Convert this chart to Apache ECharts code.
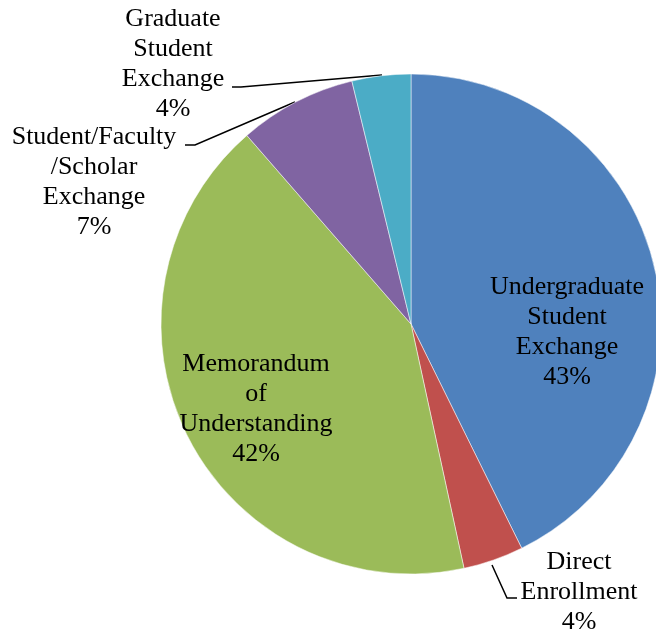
<!DOCTYPE html>
<html>
<head>
<meta charset="utf-8">
<script src="https://cdn.jsdelivr.net/npm/echarts@6/dist/echarts.min.js"></script>
<style>
  html, body { margin: 0; padding: 0; background: #fff; }
  #chart { width: 656px; height: 637px; }
</style>
</head>
<body>
<div id="chart"></div>
<script>
// slices, clockwise from 12 o'clock
const categories = [
  "Undergraduate\nStudent\nExchange",
  "Direct\nEnrollment",
  "Memorandum\nof\nUnderstanding",
  "Student/Faculty\n/Scholar\nExchange",
  "Graduate\nStudent\nExchange",
];
const shares = [42.7, 3.9, 42.0, 7.6, 3.8];
const percentLabels = ["43%", "4%", "42%", "7%", "4%"];
const colors = ["#4F81BD", "#C0504D", "#9BBB59", "#8064A2", "#4BACC6"];

// label block centres and leader lines (Excel style)
const labelSpots = [
  { x: 567, y: 332 },
  { x: 579, y: 592, line: [[492, 565], [507, 598], [517, 598]] },
  { x: 256, y: 409 },
  { x: 94, y: 182, line: [[295, 102], [195, 145], [185, 145]] },
  { x: 173, y: 64, line: [[382, 75], [241, 87], [232, 87]] },
];

const chart = echarts.init(document.getElementById("chart"));

const option = {
  backgroundColor: "#fff",
  animation: false,
  series: [
    {
      type: "pie",
      center: [411, 324],
      radius: 250,
      startAngle: 90,
      clockwise: true,
      silent: true,
      avoidLabelOverlap: false,
      itemStyle: { borderColor: "#fff", borderWidth: 0.5 },
      label: {
        show: true,
        position: "outside",
        overflow: "none",
        color: "#000",
        fontFamily: "Liberation Serif",
        fontSize: 26,
        lineHeight: 30,
        align: "center",
        formatter: (p) => p.name + "\n" + percentLabels[p.dataIndex],
      },
      labelLine: {
        show: true,
        lineStyle: { color: "#000", width: 1.5 },
      },
      labelLayout: (params) => {
        const s = labelSpots[params.dataIndex];
        const out = { x: s.x, y: s.y, align: "center", verticalAlign: "middle", hideOverlap: false };
        if (s.line) out.labelLinePoints = s.line;
        return out;
      },
      data: shares.map((v, i) => ({
        name: categories[i],
        value: v,
        itemStyle: { color: colors[i] },
        labelLine: { show: !!labelSpots[i].line },
      })),
    },
  ],
};

chart.setOption(option);
</script>
</body>
</html>
